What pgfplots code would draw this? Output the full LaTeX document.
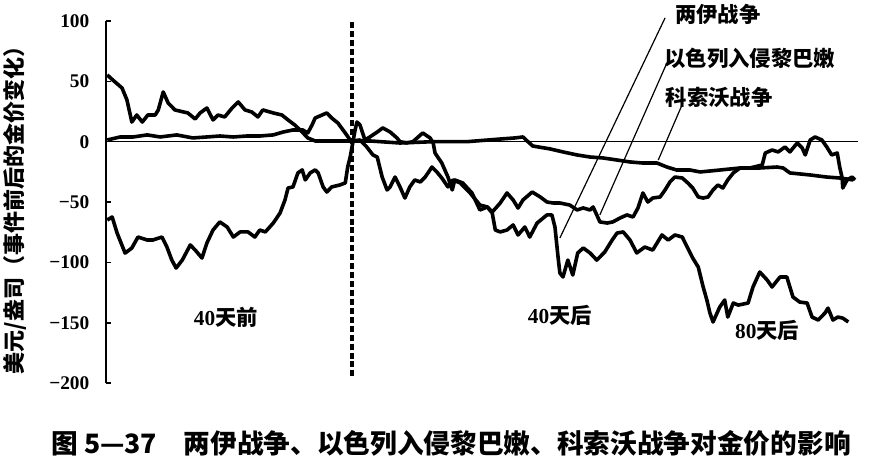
\documentclass[border=0pt]{standalone}
\usepackage{pgfplots}
\pgfplotsset{compat=1.18}
\usepackage{fontspec}
\setmainfont{Liberation Serif}
\newfontfamily\cjk{Noto Sans CJK SC}

\begin{document}
\begin{tikzpicture}
\begin{axis}[
    width=564pt, height=271.5pt, scale only axis,
    xmin=-40, xmax=82.3, ymin=-200, ymax=100,
    axis x line=none, axis y line*=left,
    y axis line style={line width=1.5pt},
    ytick={-200,-150,-100,-50,0,50,100},
    yticklabels={\textbf{−200},\textbf{−150},\textbf{−100},\textbf{−50},\textbf{0},\textbf{50},\textbf{100}},
    tick align=inside, major tick length=4pt,
    every tick/.style={black, line width=1.2pt},
    yticklabel style={font=\fontsize{14.5}{14.5}\selectfont, xshift=-9pt},
    clip=false,
    series/.style={black, line width=2.7pt, line join=round, mark=none},
]
% zero line
\addplot[black, line width=1.1pt, mark=none] coordinates {(-40,0) (82.3,0)};

% 科索沃战争
\addplot[series] coordinates {
(-39.8,1.4) (-37.7,3.9) (-35.6,3.9) (-33.3,5.6) (-31.2,3.9) (-28.5,5.6) (-25.9,3.1)
(-23.6,3.9) (-21.5,4.7) (-19.3,3.9) (-17.1,4.7) (-15.0,4.7) (-12.8,5.6) (-11.2,8.0)
(-9.6,9.7) (-8.0,9.7) (-7.2,7.2) (-6.5,13.8) (-6.0,19.6) (-4.1,23.8) (-3.3,19.6)
(-2.3,15.5) (-1.1,7.2) (-0.3,1.4) (0,0.6)
(2.9,0.6) (7.8,-1.1) (13.2,0) (18.7,0) (24.1,2.2) (26.5,3.1) (27.8,3.9) (28.6,0)
(29.4,-3.6) (32.2,-6.0) (34.3,-8.5) (36.6,-11.0) (38.7,-12.7) (40.8,-13.5) (43.1,-15.2)
(45.2,-16.8) (47.3,-17.7) (49.6,-17.7) (51.2,-21.0) (52.8,-23.5) (55.0,-23.5) (56.6,-25.1)
(59.8,-23.5) (63.1,-21.8) (66.3,-21.8) (69.1,-21.0) (70.1,-21.8) (71.2,-25.9) (74.5,-27.6)
(77.2,-29.3) (79.3,-30.1) (81.5,-31.7)
};

% 以色列入侵黎巴嫩
\addplot[series] coordinates {
(-39.8,55.3) (-38.9,51.1) (-37.4,44.5) (-36.6,34.6) (-35.8,16.3) (-35.0,22.1) (-34.1,16.3)
(-33.2,22.1) (-32.0,22.1) (-31.5,26.3) (-30.7,41.2) (-29.9,32.1) (-28.8,26.3) (-26.7,23.8)
(-25.5,18.8) (-24.7,23.8) (-23.6,27.9) (-22.6,18.0) (-21.8,22.1) (-20.7,20.5) (-19.5,27.9)
(-18.5,32.9) (-17.4,26.3) (-16.3,24.6) (-15.3,20.5) (-14.5,26.3) (-12.8,23.8) (-11.4,22.1)
(-10.4,18.0) (-9.3,13.8) (-8.1,8.0) (-7.2,3.1) (-6.0,0.6) (-3.6,0.6) (-0.8,0.6) (0,0.6)
(1.3,1.4) (2.4,-4.4) (3.4,-11.0) (4.1,-12.7) (4.9,-29.3) (5.7,-40.0) (6.2,-37.5) (7.0,-29.3)
(7.8,-37.5) (8.6,-46.7) (9.4,-37.5) (10.2,-31.7) (11.1,-33.4) (11.9,-29.3) (13.0,-21.0)
(13.8,-25.1) (14.6,-30.1) (15.6,-37.5) (16.4,-31.7) (17.6,-34.2) (19.2,-42.5) (20.8,-52.5)
(22.0,-54.1) (22.8,-58.3) (24.1,-50.8) (25.2,-42.5) (26.2,-48.3) (27.0,-55.0) (27.8,-48.3)
(29.3,-41.7) (30.6,-45.8) (31.7,-50.0) (32.7,-50.8) (33.8,-50.8) (35.4,-52.5) (36.6,-56.6)
(37.6,-54.9) (38.7,-56.6) (39.2,-54.1) (39.8,-60.7) (40.3,-66.5) (41.5,-67.4) (42.4,-66.5)
(43.6,-63.2) (44.7,-60.7) (45.7,-62.4) (46.5,-54.9) (47.3,-42.5) (48.1,-50.0) (48.9,-46.7)
(50.1,-45.8) (50.9,-40.0) (51.7,-33.4) (52.5,-29.3) (53.7,-30.1) (54.6,-34.2) (55.4,-38.4)
(56.3,-45.8) (57.1,-46.7) (57.9,-45.8) (58.7,-40.0) (59.5,-35.9) (60.3,-38.4) (61.1,-31.7)
(62.0,-25.9) (63.1,-21.8) (64.7,-21.8) (66.7,-19.3) (67.2,-9.4) (68.3,-6.9) (69.3,-8.5)
(70.4,-4.4) (71.2,-8.5) (72.4,-1.1) (73.2,-5.2) (73.7,-11.0) (74.5,1.4) (75.3,3.9)
(76.4,1.4) (77.2,-4.4) (78.0,-11.0) (78.9,-9.4) (79.3,-21.0) (79.7,-30.1) (79.8,-38.4)
(80.5,-31.7) (81.3,-29.3) (81.8,-31.7)
};

% 两伊战争
\addplot[series] coordinates {
(-39.8,-64.9) (-39.0,-62.4) (-38.2,-75.7) (-36.9,-92.3) (-35.8,-88.1) (-34.8,-79.0)
(-33.3,-81.5) (-32.4,-81.5) (-30.9,-79.0) (-30.1,-87.3) (-29.3,-98.1) (-28.6,-104.7)
(-27.6,-98.1) (-26.3,-85.6) (-25.5,-89.8) (-24.4,-96.4) (-23.6,-84.0) (-22.6,-73.2)
(-21.5,-66.5) (-20.3,-70.7) (-19.3,-79.0) (-18.2,-74.8) (-16.9,-74.8) (-15.8,-79.0)
(-15.0,-73.2) (-14.1,-74.8) (-12.8,-67.4) (-11.7,-59.1) (-10.9,-48.3) (-10.4,-38.4)
(-9.6,-37.5) (-8.8,-25.9) (-8.1,-23.4) (-7.6,-31.7) (-6.8,-25.9) (-6.0,-23.4) (-5.5,-25.9)
(-4.7,-37.5) (-4.1,-41.7) (-3.3,-37.5) (-2.0,-35.9) (-1.1,-34.2) (-0.7,-21.0) (-0.3,-12.7)
(0,-4.4) (0.5,9.7) (0.8,16.3) (1.3,13.8) (2.1,1.4) (2.9,3.9) (4.1,8.0) (5.0,11.4) (6.2,8.0)
(7.3,3.1) (7.8,0) (8.9,-1.0) (9.9,0) (11.5,7.2) (12.7,3.1) (13.2,-1.1) (13.5,-9.4)
(14.6,-17.7) (15.6,-29.3) (16.3,-40.0) (16.7,-31.7) (18.0,-34.2) (19.5,-42.5) (20.8,-56.6)
(22.0,-54.1) (22.8,-59.1) (23.3,-73.2) (24.1,-74.8) (25.2,-73.2) (26.2,-69.0) (27.0,-77.3)
(28.1,-70.7) (28.9,-79.0) (30.1,-67.4) (31.7,-60.7) (32.5,-60.7) (33.0,-70.7) (33.5,-95.5)
(33.8,-108.8) (34.3,-112.1) (35.1,-98.1) (35.9,-110.5) (36.7,-92.2) (37.6,-88.1)
(38.7,-92.2) (39.8,-98.1) (41.1,-91.4) (42.3,-81.5) (43.1,-75.7) (44.1,-74.8) (45.2,-81.5)
(46.3,-92.2) (47.6,-87.3) (48.9,-89.8) (50.4,-77.3) (51.4,-81.5) (52.5,-77.3) (53.7,-79.0)
(54.5,-87.3) (55.4,-96.4) (56.3,-103.9) (57.1,-120.4) (57.7,-131.2) (58.2,-142.0)
(58.7,-149.4) (59.8,-137.0) (60.6,-131.2) (61.1,-145.3) (62.0,-133.7) (62.8,-135.4)
(64.4,-133.7) (65.2,-120.4) (66.3,-108.0) (67.5,-114.6) (68.3,-120.4) (69.6,-112.1)
(70.7,-112.1) (71.7,-128.7) (72.8,-132.9) (74.0,-133.7) (74.8,-145.3) (75.8,-147.8)
(76.9,-142.0) (77.4,-137.9) (78.2,-147.8) (79.0,-145.3) (79.8,-146.2) (80.7,-149.4)
};

% event day
\addplot[black, mark=none, line width=2.4pt, dash pattern=on 4.5pt off 2.2pt] coordinates {(0,99.2) (0,-195)};

% pointer lines
\addplot[black, mark=none, line width=0.9pt] coordinates {(50.9,102.5) (33.8,-79.8)};
\addplot[black, mark=none, line width=0.9pt] coordinates {(51.2,65.2) (40.3,-60.7)};
\addplot[black, mark=none, line width=0.9pt] coordinates {(53.8,32.1) (49.8,-15.2)};

\node[font=\cjk\bfseries\fontsize{16}{16}\selectfont] at (axis cs:59.5,105.0) {两伊战争};
\node[font=\cjk\bfseries\fontsize{16}{16}\selectfont] at (axis cs:64.7,69.4) {以色列入侵黎巴嫩};
\node[font=\cjk\bfseries\fontsize{16}{16}\selectfont] at (axis cs:59.7,37.0) {科索沃战争};

\node[font=\bfseries\fontsize{16}{16}\selectfont] at (axis cs:-20.5,-145.3) {40{\cjk\bfseries 天前}};
\node[font=\bfseries\fontsize{16}{16}\selectfont] at (axis cs:33.8,-143.6) {40{\cjk\bfseries 天后}};
\node[font=\bfseries\fontsize{16}{16}\selectfont] at (axis cs:67.5,-156.0) {80{\cjk\bfseries 天后}};

\node[rotate=90, font=\cjk\bfseries\fontsize{16.5}{16.5}\selectfont] at (axis cs:-54.8,-52.5) {美元/盎司（事件前后的金价变化）};

\node[font=\cjk\bfseries\fontsize{20}{20}\selectfont] at (axis cs:16.1,-249.7) {图 5—37\quad 两伊战争、以色列入侵黎巴嫩、科索沃战争对金价的影响};

\coordinate (bl) at (axis cs:-57.24,-268.8);
\coordinate (tr) at (axis cs:84.39,117.4);
\end{axis}
\pgfresetboundingbox
\path[use as bounding box] (bl) rectangle (tr);
\end{tikzpicture}
\end{document}
